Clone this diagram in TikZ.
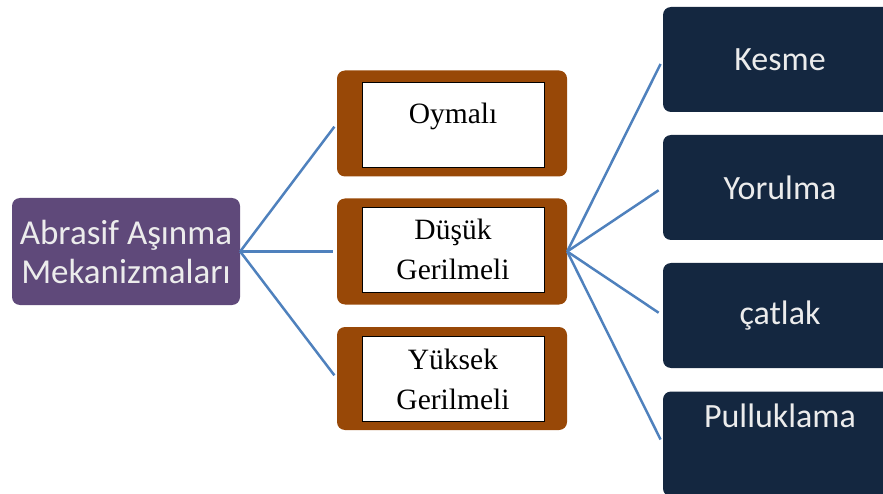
\documentclass[tikz,border=0pt]{standalone}
\usepackage{fontspec}
\setmainfont{Liberation Serif}
\newfontfamily\calibri{Carlito}
\usepackage{tikz}

\definecolor{rootpurple}{RGB}{95,73,122}
\definecolor{boxbrown}{RGB}{152,72,7}
\definecolor{boxnavy}{RGB}{20,39,64}
\definecolor{linkblue}{RGB}{79,129,189}
\definecolor{paletext}{RGB}{236,236,236}

\begin{document}
\begin{tikzpicture}[x=1pt,y=-1pt,
    rootbox/.style={fill=rootpurple, rounded corners=8pt, minimum width=228pt, minimum height=107pt,
        text=paletext, align=center, font=\calibri\fontsize{35}{39}\selectfont},
    brownbox/.style={fill=boxbrown, rounded corners=8pt, minimum width=230pt, minimum height=106pt},
    whitebox/.style={fill=white, draw=black, line width=0.8pt, minimum width=182pt, minimum height=85pt,
        align=center, font=\fontsize{29.5}{40}\selectfont},
    navybox/.style={fill=boxnavy, rounded corners=8pt, minimum width=234pt, minimum height=105pt,
        text=paletext, align=center, font=\calibri\fontsize{34}{39}\selectfont},
    link/.style={draw=linkblue, line width=2.5pt}]
    \useasboundingbox (0,0) rectangle (883,494);
    \clip (0,0) rectangle (883,494);

    % Draw root
    \node[rootbox] (root) at (126,251.5) {Abrasif Aşınma\\Mekanizmaları};

    % Draw middle column
    \node[brownbox] (oymali) at (452,123.5) {};
    \node[brownbox] (dusuk) at (452,251.5) {};
    \node[brownbox, minimum height=103pt] (yuksek) at (452,378.5) {};
    \node[whitebox] (oymaliText) at (453,125) {Oymalı\\[-16pt]\mbox{}};
    \node[whitebox] (dusukText) at (453,249.5) {Düşük\\Gerilmeli};
    \node[whitebox] (yuksekText) at (453,379) {Yüksek\\Gerilmeli};

    % Draw right column
    \node[navybox] (kesme) at (780,59.5) {Kesme};
    \node[navybox] (yorulma) at (780,187.5) {Yorulma};
    \node[navybox] (catlak) at (780,315.5) {çatlak};
    \node[navybox] (pul) at (780,444) {Pulluklama\\[17pt]\mbox{}};

    % Draw connectors
    \foreach \t in {oymali,dusuk,yuksek}
        \draw[link, shorten >=4pt] (root.east) -- (\t.west);
    \foreach \t in {kesme,yorulma,catlak,pul}
        \draw[link, shorten >=5pt] (dusuk.east) -- (\t.west);
\end{tikzpicture}
\end{document}
